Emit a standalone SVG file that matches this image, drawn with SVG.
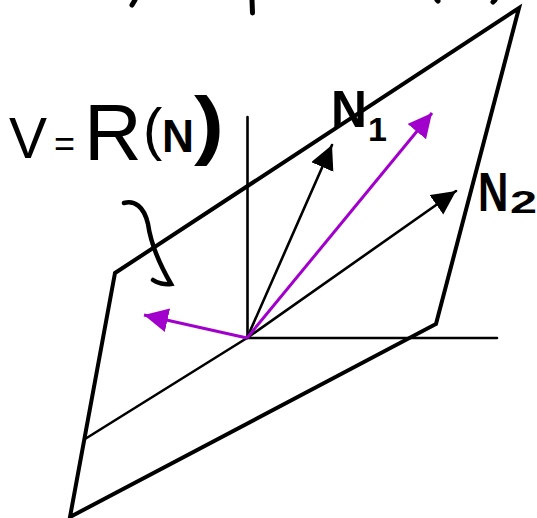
<svg xmlns="http://www.w3.org/2000/svg" width="537" height="518" viewBox="0 0 537 518">
<style>
.k{fill:none;stroke:#000;stroke-linecap:round;stroke-linejoin:miter}
.t{stroke-width:2.6}
.p{fill:none;stroke:#000;stroke-width:4;stroke-linejoin:miter}
.v{fill:none;stroke:#a100cc;stroke-width:3}
.l{font-family:"Liberation Sans",Arial,sans-serif;fill:#000}
</style>
<defs>
<marker id="ak" markerUnits="userSpaceOnUse" markerWidth="26" markerHeight="26" refX="24" refY="12" orient="auto"><path d="M0 0L24 12L0 24z" fill="#000"/></marker>
<marker id="av" markerUnits="userSpaceOnUse" markerWidth="26" markerHeight="26" refX="24" refY="12" orient="auto"><path d="M0 0L24 12L0 24z" fill="#a100cc"/></marker>
</defs>
<rect width="537" height="518" fill="#fff"/>
<g id="plane"><path class="p" d="M115 273L519 8L436 324L70 517Z"/></g>
<g id="axes">
<path class="k t" d="M247.500 117V338H497"/>
<path class="k t" d="M247 338L85 439"/>
</g>
<g id="connectors">
<path class="k t" d="M247 338L332 145" marker-end="url(#ak)"/>
<path class="k t" d="M247 338L456 191" marker-end="url(#ak)"/>
<path class="v" d="M247 338L432 113" marker-end="url(#av)"/>
<path class="v" d="M247 338L144 315" marker-end="url(#av)"/>
</g>
<g id="brace"><path d="M124 203C134 200 144 206 148 224C151 245 160 265 171 284C165 285 157 283 153 280" fill="none" stroke="#000" stroke-width="4.500" stroke-linecap="round"/></g>
<g id="top-marks">
<path d="M135 0L132 5M252 0L252.500 13M437 0L438 1M495 0L493 2" fill="none" stroke="#000" stroke-width="5" stroke-linecap="round"/>
</g>
<g id="label-v">
<text class="l" x="9" y="158" font-size="57">V</text>
<text class="l" x="54" y="156" font-size="36">=</text>
<text class="l" x="84" y="160" font-size="80">R</text>
<text class="l" x="143" y="149" font-size="58">(</text>
<text class="l" x="162" y="152" font-size="47" font-weight="bold" textLength="32" lengthAdjust="spacingAndGlyphs">N</text>
<text class="l" x="194" y="150" font-size="76" font-weight="bold" textLength="30" lengthAdjust="spacingAndGlyphs">)</text>
</g>
<g id="label-n1">
<text class="l" x="331" y="127" font-size="52" font-weight="bold" textLength="36" lengthAdjust="spacingAndGlyphs">N</text>
<text class="l" x="368" y="141" font-size="34" font-weight="bold">1</text>
</g>
<g id="label-n2">
<text class="l" transform="translate(478 211) scale(1 1.300)" font-size="42" font-weight="bold">N</text>
<text class="l" x="510" y="213" font-size="32" font-weight="bold" textLength="27" lengthAdjust="spacingAndGlyphs">2</text>
</g>
</svg>
